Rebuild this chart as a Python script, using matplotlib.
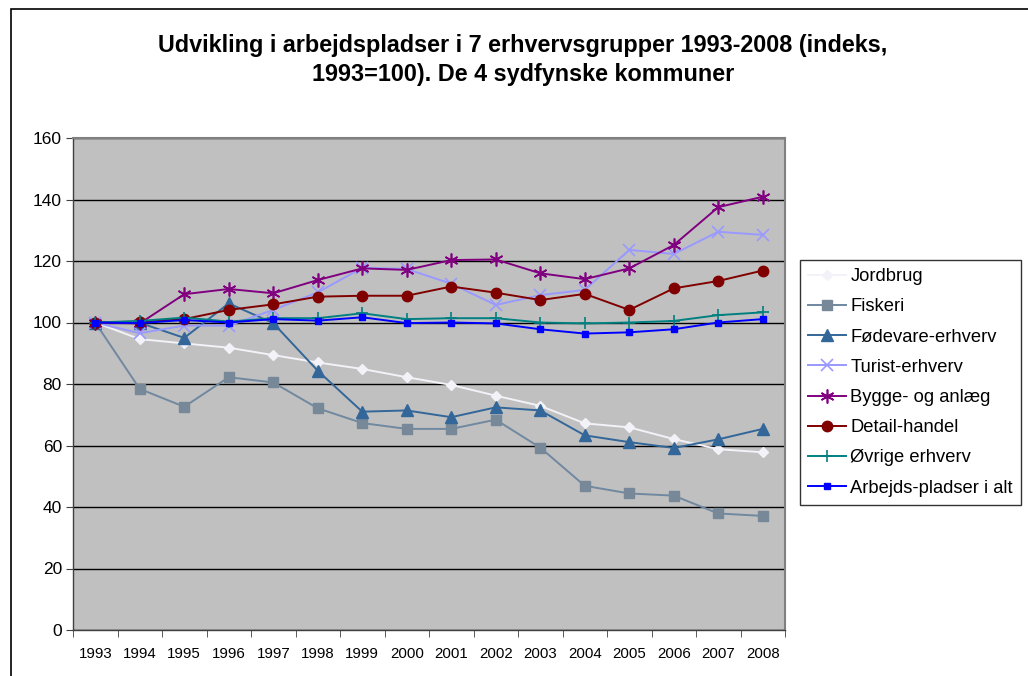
import matplotlib
matplotlib.use("Agg")
import matplotlib.pyplot as plt
from matplotlib.patches import Rectangle

plt.rcParams['font.family'] = ['Liberation Sans', 'DejaVu Sans']

years = list(range(1993, 2009))
year_labels = [str(y) for y in years]

jordbrug = [100, 94.6, 93.2, 91.8, 89.4, 87.0, 84.9, 82.2, 79.7, 76.2, 72.9, 67.2, 65.9, 62.1, 58.8, 57.8]
fiskeri = [100, 78.4, 72.6, 82.2, 80.5, 72.1, 67.3, 65.4, 65.4, 68.4, 59.3, 46.9, 44.4, 43.7, 37.9, 37.1]
foedevare = [100, 99.9, 95.0, 106.2, 99.8, 84.3, 71.0, 71.4, 69.2, 72.4, 71.4, 63.3, 61.1, 59.2, 62.0, 65.4]
turist = [100, 96.5, 99.0, 99.0, 104.1, 109.8, 117.8, 117.4, 112.6, 105.7, 108.9, 110.6, 123.6, 122.3, 129.5, 128.5]
bygge = [100, 99.7, 109.2, 110.9, 109.5, 113.8, 117.6, 117.1, 120.3, 120.5, 116.0, 114.1, 117.6, 125.2, 137.5, 140.9]
detail = [100, 100.3, 101.1, 104.1, 105.9, 108.4, 108.7, 108.7, 111.7, 109.7, 107.3, 109.3, 104.1, 111.1, 113.5, 116.9]
oevrige = [100, 100.5, 101.6, 100.3, 101.4, 101.4, 103.0, 101.1, 101.4, 101.4, 100.0, 99.7, 100.0, 100.5, 102.4, 103.3]
alt = [100, 99.8, 100.8, 100.0, 101.1, 100.6, 101.7, 99.8, 100.0, 99.7, 97.8, 96.4, 96.8, 97.8, 100.0, 101.1]

series = [
    ("Jordbrug", jordbrug, dict(color="#F2F2F8", marker="D", ms=5.5, mfc="#F2F2F8", mec="#F2F2F8")),
    ("Fiskeri", fiskeri, dict(color="#7088A0", marker="s", ms=7, mfc="#778899", mec="#778899")),
    ("Fødevare-erhverv", foedevare, dict(color="#336699", marker="^", ms=8, mfc="#336699", mec="#336699")),
    ("Turist-erhverv", turist, dict(color="#9999FF", marker="x", ms=8, mfc="#9999FF", mec="#9999FF", mew=1.2)),
    ("Bygge- og anlæg", bygge, dict(color="#800080", marker=(6, 2, 0), ms=10, mfc="#800080", mec="#800080", mew=1.2)),
    ("Detail-handel", detail, dict(color="#800000", marker="o", ms=7.5, mfc="#800000", mec="#800000")),
    ("Øvrige erhverv", oevrige, dict(color="#008080", marker="+", ms=9, mfc="#008080", mec="#008080", mew=1.2)),
    ("Arbejds-pladser i alt", alt, dict(color="#0000FF", marker="s", ms=4, mfc="#0000FF", mec="#0000FF")),
]

W, H = 1028, 676
fig = plt.figure(figsize=(W / 100, H / 100), dpi=100)
fig.patch.set_facecolor("white")

# outer chart border
fig.patches.append(Rectangle((11 / W, -0.1), 1.2, 1 - 9 / H + 0.1, transform=fig.transFigure,
                             fill=False, edgecolor="black", linewidth=1.2))

left, right, top, bottom = 73, 785, 138, 630
ax = fig.add_axes([left / W, 1 - bottom / H, (right - left) / W, (bottom - top) / H])
ax.set_facecolor("#C0C0C0")

x = list(range(len(years)))
for name, vals, st in series:
    ax.plot(x, vals, label=name, linewidth=1.4, zorder=3, **st)

ax.set_xlim(-0.5, len(years) - 0.5)
ax.set_ylim(0, 160)
ax.set_yticks(range(0, 161, 20))
ax.set_yticklabels([str(v) for v in range(0, 161, 20)], fontsize=12.5)
ax.set_xticks([i for i in x])
ax.set_xticklabels(year_labels, fontsize=10.8)
ax.set_xticks([i - 0.5 for i in range(len(years) + 1)], minor=True)
ax.tick_params(axis="x", which="major", length=0, pad=12)
ax.tick_params(axis="x", which="minor", length=5, direction="out", color="#404040")
ax.tick_params(axis="y", length=5, direction="out", color="#404040", pad=3)
ax.yaxis.grid(True, color="black", linewidth=1.0, zorder=1)
ax.set_axisbelow(True)
for s in ["top", "right"]:
    ax.spines[s].set_color("#808080")
    ax.spines[s].set_linewidth(1.5)
for s in ["left", "bottom"]:
    ax.spines[s].set_color("#404040")
    ax.spines[s].set_linewidth(1.0)

fig.text(523 / W, 1 - 60 / H,
         "Udvikling i arbejdspladser i 7 erhvervsgrupper 1993-2008 (indeks,\n1993=100). De 4 sydfynske kommuner",
         ha="center", va="center", fontsize=16.8, fontweight="bold", linespacing=1.36)

leg = ax.legend(loc="upper left", bbox_to_anchor=(800 / W, 1 - 260 / H), bbox_transform=fig.transFigure,
                frameon=True, fancybox=False, fontsize=13.2, handlelength=2.05, handletextpad=0.25,
                labelspacing=0.72, borderpad=0.45, borderaxespad=0)
leg.get_frame().set_edgecolor("black")
leg.get_frame().set_linewidth(1.0)

fig.savefig("out.png", dpi=100)
